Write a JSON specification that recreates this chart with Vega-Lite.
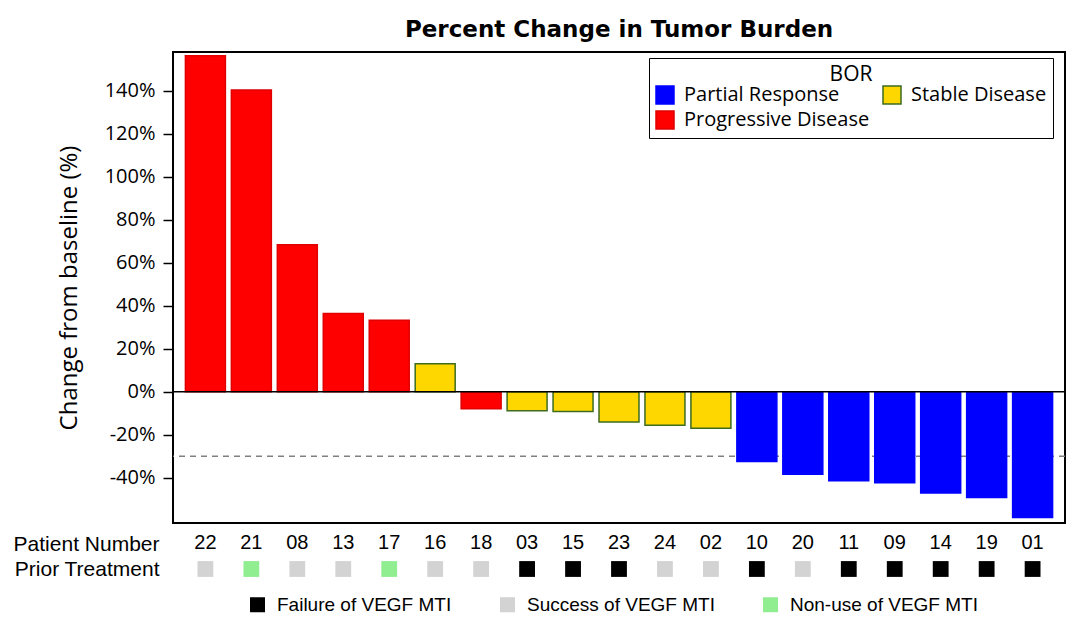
{
  "$schema": "https://vega.github.io/schema/vega-lite/v6.json",
  "background": "white",
  "padding": {"left": 12, "top": 17, "right": 10, "bottom": 10},
  "datasets": {
    "patients": [
      {"patient": "22", "pct": 156.3, "bor": "Progressive Disease", "prior": "Success of VEGF MTI"},
      {"patient": "21", "pct": 140.3, "bor": "Progressive Disease", "prior": "Non-use of VEGF MTI"},
      {"patient": "08", "pct": 68.4, "bor": "Progressive Disease", "prior": "Success of VEGF MTI"},
      {"patient": "13", "pct": 36.4, "bor": "Progressive Disease", "prior": "Success of VEGF MTI"},
      {"patient": "17", "pct": 33.3, "bor": "Progressive Disease", "prior": "Non-use of VEGF MTI"},
      {"patient": "16", "pct": 13.0, "bor": "Stable Disease", "prior": "Success of VEGF MTI"},
      {"patient": "18", "pct": -7.9, "bor": "Progressive Disease", "prior": "Success of VEGF MTI"},
      {"patient": "03", "pct": -8.8, "bor": "Stable Disease", "prior": "Failure of VEGF MTI"},
      {"patient": "15", "pct": -9.2, "bor": "Stable Disease", "prior": "Failure of VEGF MTI"},
      {"patient": "23", "pct": -14.0, "bor": "Stable Disease", "prior": "Failure of VEGF MTI"},
      {"patient": "24", "pct": -15.5, "bor": "Stable Disease", "prior": "Success of VEGF MTI"},
      {"patient": "02", "pct": -16.9, "bor": "Stable Disease", "prior": "Success of VEGF MTI"},
      {"patient": "10", "pct": -32.4, "bor": "Partial Response", "prior": "Failure of VEGF MTI"},
      {"patient": "20", "pct": -38.3, "bor": "Partial Response", "prior": "Success of VEGF MTI"},
      {"patient": "11", "pct": -41.4, "bor": "Partial Response", "prior": "Failure of VEGF MTI"},
      {"patient": "09", "pct": -42.3, "bor": "Partial Response", "prior": "Failure of VEGF MTI"},
      {"patient": "14", "pct": -47.0, "bor": "Partial Response", "prior": "Failure of VEGF MTI"},
      {"patient": "19", "pct": -49.2, "bor": "Partial Response", "prior": "Failure of VEGF MTI"},
      {"patient": "01", "pct": -58.5, "bor": "Partial Response", "prior": "Failure of VEGF MTI"}
    ]
  },
  "spacing": 0,
  "vconcat": [
    {
      "width": 892,
      "height": 471,
      "title": {
        "text": "Percent Change in Tumor Burden",
        "font": "DejaVu Sans",
        "fontSize": 23,
        "fontWeight": "bold",
        "color": "black",
        "frame": "group",
        "anchor": "middle",
        "baseline": "alphabetic",
        "offset": -7.5
      },
      "view": {"stroke": "black", "strokeWidth": 2},
      "layer": [
        {
          "data": {"values": [{"pct": -30}]},
          "mark": {"type": "rule", "color": "#808080", "strokeDash": [6, 5], "strokeWidth": 1.5},
          "encoding": {"y": {"field": "pct", "type": "quantitative"}}
        },
        {
          "data": {"name": "patients"},
          "mark": {"type": "bar", "strokeWidth": 1.5},
          "encoding": {
            "x": {
              "field": "patient",
              "type": "nominal",
              "sort": null,
              "scale": {"paddingInner": 0.13, "paddingOuter": 0.27},
              "axis": {
                "title": "Patient Number",
                "labelAngle": 0,
                "labelFont": "Liberation Sans",
                "labelFontSize": 20,
                "labelColor": "black",
                "ticks": false,
                "domain": false,
                "labelPadding": 9,
                "titleFont": "Liberation Sans",
                "titleFontSize": 21,
                "titleFontWeight": "normal",
                "titleColor": "black",
                "titleX": -14,
                "titleY": 21,
                "titleAlign": "right",
                "titleBaseline": "middle",
                "titleAngle": 0
              }
            },
            "y": {
              "field": "pct",
              "type": "quantitative",
              "scale": {"domain": [-61, 158], "nice": false, "zero": false},
              "axis": {
                "title": "Change from baseline (%)",
                "values": [-40, -20, 0, 20, 40, 60, 80, 100, 120, 140],
                "labelExpr": "datum.value + '%'",
                "labelFont": "Open Sans",
                "labelFontSize": 20,
                "labelColor": "black",
                "tickColor": "black",
                "tickSize": 10,
                "tickWidth": 1.5,
                "labelPadding": 8,
                "domain": false,
                "grid": false,
                "titleFont": "Open Sans",
                "titleFontSize": 24,
                "titleFontWeight": "normal",
                "titleColor": "black",
                "titlePadding": 23
              }
            },
            "fill": {
              "field": "bor",
              "type": "nominal",
              "scale": {
                "domain": ["Partial Response", "Progressive Disease", "Stable Disease"],
                "range": ["#0000ff", "#ff0000", "#ffd700"]
              },
              "legend": {
                "title": "BOR",
                "orient": "none",
                "legendX": 476,
                "legendY": 6,
                "columns": 2,
                "symbolType": "square",
                "symbolSize": 324,
                "symbolStrokeWidth": 1.5,
                "symbolOpacity": 1,
                "labelFont": "Open Sans",
                "labelFontSize": 20,
                "labelColor": "black",
                "labelLimit": 400,
                "labelOffset": 9,
                "titleFont": "Open Sans",
                "titleFontSize": 21,
                "titleFontWeight": "normal",
                "titleColor": "black",
                "titleAnchor": "middle",
                "titlePadding": 0,
                "rowPadding": 1,
                "columnPadding": 10,
                "padding": 6,
                "strokeColor": "black",
                "fillColor": "white"
              }
            },
            "stroke": {
              "field": "bor",
              "type": "nominal",
              "scale": {
                "domain": ["Partial Response", "Progressive Disease", "Stable Disease"],
                "range": ["#0000ff", "#e00000", "#3d6b1f"]
              },
              "legend": {
                "title": "BOR",
                "orient": "none",
                "legendX": 476,
                "legendY": 6,
                "columns": 2,
                "symbolType": "square",
                "symbolSize": 324,
                "symbolStrokeWidth": 1.5,
                "labelFont": "Open Sans",
                "labelFontSize": 20,
                "labelColor": "black",
                "labelLimit": 400,
                "labelOffset": 9,
                "titleFont": "Open Sans",
                "titleFontSize": 21,
                "titleFontWeight": "normal",
                "titleColor": "black",
                "titleAnchor": "middle",
                "titlePadding": 0,
                "rowPadding": 1,
                "columnPadding": 10,
                "padding": 6,
                "strokeColor": "black",
                "fillColor": "white"
              }
            }
          }
        },
        {
          "data": {"values": [{"pct": 0}]},
          "mark": {"type": "rule", "color": "black", "strokeWidth": 1.5},
          "encoding": {"y": {"field": "pct", "type": "quantitative"}}
        }
      ]
    },
    {
      "width": 892,
      "height": 28,
      "view": {"stroke": null},
      "data": {"name": "patients"},
      "mark": {"type": "point", "shape": "square", "filled": true, "size": 250, "opacity": 1},
      "encoding": {
        "x": {
          "field": "patient",
          "type": "nominal",
          "sort": null,
          "scale": {"type": "band", "paddingInner": 0.13, "paddingOuter": 0.27},
          "axis": null
        },
        "y": {
          "datum": "Prior Treatment",
          "type": "nominal",
          "axis": {
            "title": null,
            "ticks": false,
            "domain": false,
            "labelFont": "Liberation Sans",
            "labelFontSize": 21,
            "labelColor": "black",
            "labelPadding": 14
          }
        },
        "color": {
          "field": "prior",
          "type": "nominal",
          "scale": {
            "domain": ["Failure of VEGF MTI", "Success of VEGF MTI", "Non-use of VEGF MTI"],
            "range": ["#000000", "#d3d3d3", "#90ee90"]
          },
          "legend": {
            "title": null,
            "orient": "none",
            "legendX": 75,
            "legendY": 40,
            "direction": "horizontal",
            "symbolType": "square",
            "symbolSize": 225,
            "symbolOpacity": 1,
            "labelFont": "Liberation Sans",
            "labelFontSize": 19,
            "labelColor": "black",
            "labelLimit": 400,
            "labelOffset": 10,
            "columnPadding": 46
          }
        }
      }
    }
  ],
  "resolve": {"scale": {"x": "independent", "color": "independent"}}
}
